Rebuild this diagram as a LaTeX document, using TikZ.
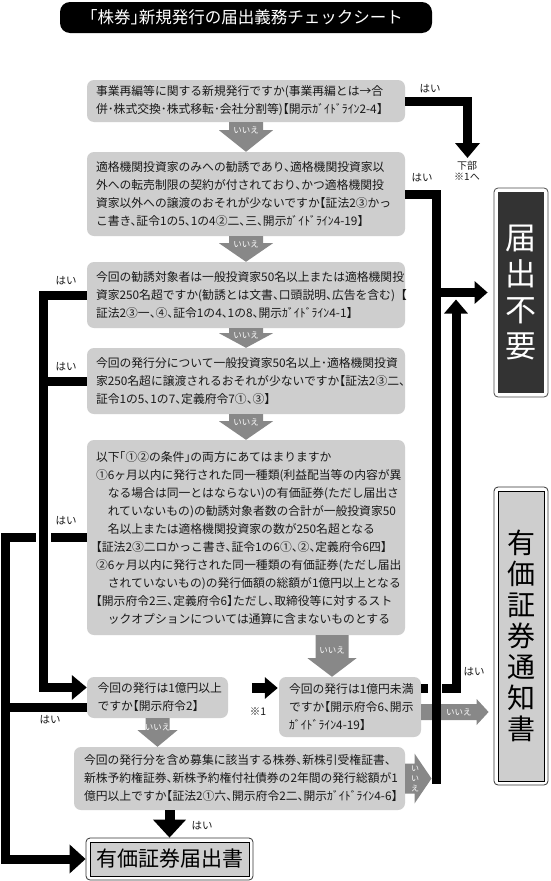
\documentclass[tikz,border=0pt]{standalone}
\usepackage{fontspec}
\setmainfont{Noto Sans CJK JP}[RawFeature=+halt]
\usetikzlibrary{arrows.meta,calc}
\definecolor{boxgray}{RGB}{206,206,206}
\definecolor{nogray}{RGB}{136,136,136}
\definecolor{darkfill}{RGB}{51,51,51}
\definecolor{txt}{RGB}{25,25,25}
% vertical grey "no" arrow: #1 top, #2 tip, #3 stem half width, #4 head half width, #5 stem length, #6 label name, #7 label offset
\newcommand\grayDown[7]{%
  \fill[nogray] let \p1=(#1), \p2=(#2) in
    (\x1-#3pt,\y1) -- (\x1+#3pt,\y1) -- (\x1+#3pt,\y1-#5pt) -- (\x1+#4pt,\y1-#5pt)
    -- (\x1,\y2) -- (\x1-#4pt,\y1-#5pt) -- (\x1-#3pt,\y1-#5pt) -- cycle;
  \node[notext] (#6) at ($(#1)+(0,#7)$) {いいえ};
}
% horizontal grey arrow: #1 start, #2 tip, #3 stem hw, #4 head hw, #5 head length
\newcommand\grayRight[5]{%
  \fill[nogray] let \p1=(#1), \p2=(#2) in
    (\x1,\y1+#3pt) -- (\x2-#5pt,\y1+#3pt) -- (\x2-#5pt,\y1+#4pt) -- (\x2,\y1)
    -- (\x2-#5pt,\y1-#4pt) -- (\x2-#5pt,\y1-#3pt) -- (\x1,\y1-#3pt) -- cycle;
}
\tikzset{
  qbox/.style={fill=boxgray, rounded corners=7pt, text=txt, align=left, inner sep=0pt,
    font=\fontsize{11.8}{18}\selectfont,
    execute at begin node={\hyphenpenalty=10000\exhyphenpenalty=10000}},
  titlebox/.style={fill=black, rounded corners=10pt, minimum width=372pt, minimum height=31pt,
    text=white, inner sep=0pt, font=\fontsize{16.5}{18}\selectfont},
  resultdark/.style={draw=black!70, line width=0.8pt, fill=white, rounded corners=4pt,
    inner sep=0pt, text=white, align=center,
    path picture={\fill[darkfill, sharp corners] ([shift={(4pt,4pt)}]path picture bounding box.south west)
      rectangle ([shift={(-4pt,-4pt)}]path picture bounding box.north east);}},
  resultlight/.style={draw=black!80, line width=0.8pt, fill=white, rounded corners=4pt,
    inner sep=0pt, text=black, align=center,
    path picture={\filldraw[fill=boxgray, draw=black, line width=0.8pt, sharp corners]
      ([shift={(4pt,4pt)}]path picture bounding box.south west)
      rectangle ([shift={(-4pt,-4pt)}]path picture bounding box.north east);}},
  blk/.style={line width=9pt, draw=black},
  blkarrow/.style={blk, -{Triangle[width=24pt,length=15pt]}},
  hai/.style={font=\fontsize{10.5}{12}\selectfont, text=txt, inner sep=0pt},
  notext/.style={font=\fontsize{8.5}{9}\selectfont, text=white, inner sep=0pt},
}
\begin{document}
\begin{tikzpicture}[x=1pt,y=-1pt,line join=miter]
\path[use as bounding box, fill=white] (0,0) rectangle (550,881);

% ---------- title ----------
\node[titlebox] (title) at (246,17.5) {「株券」新規発行の届出義務チェックシート};

% ---------- question boxes ----------
\node[qbox, minimum width=318pt, minimum height=42pt, text width=300pt] (b1) at (246,101)
 {事業再編等に関する新規発行ですか(事業再編とは→合\\
  併･株式交換･株式移転･会社分割等)【開示ｶﾞｲﾄﾞﾗｲﾝ2-4】};
\node[qbox, minimum width=318pt, minimum height=84pt, text width=300pt] (b2) at (246,194)
 {適格機関投資家のみへの勧誘であり、適格機関投資家以\\
  外への転売制限の契約が付されており、かつ適格機関投\\
  資家以外への譲渡のおそれが少ないですか【証法2③かっ\\
  こ書き、証令1の5、1の4②二、三、開示ｶﾞｲﾄﾞﾗｲﾝ4-19】};
\node[qbox, minimum width=318pt, minimum height=66pt, text width=300pt] (b3) at (246,295)
 {今回の勧誘対象者は一般投資家50名以上または適格機関投\\
  資家250名超ですか(勧誘とは文書、口頭説明、広告を含む){\addfontfeature{RawFeature=-halt}【}\\
  証法2③一、④、証令1の4、1の8、開示ｶﾞｲﾄﾞﾗｲﾝ4-1】};
\node[qbox, minimum width=318pt, minimum height=66pt, text width=300pt] (b4) at (246,381)
 {今回の発行分について一般投資家50名以上･適格機関投資\\
  家250名超に譲渡されるおそれが少ないですか【証法2③二、\\
  証令1の5、1の7、定義府令7①、③】};
\node[qbox, minimum width=318pt, minimum height=195pt, text width=300pt] (b5) at (246,537.5)
 {以下「①②の条件」の両方にあてはまりますか\\
  ①6ヶ月以内に発行された同一種類(利益配当等の内容が異\\
  　なる場合は同一とはならない)の有価証券(ただし届出さ\\
  　れていないもの)の勧誘対象者数の合計が一般投資家50\\
  　名以上または適格機関投資家の数が250名超となる\\
  【証法2③二ロかっこ書き、証令1の6①、②、定義府令6四】\\
  ②6ヶ月以内に発行された同一種類の有価証券(ただし届出\\
  　されていないもの)の発行価額の総額が1億円以上となる\\
  【開示府令2三、定義府令6】ただし、取締役等に対するスト\\
  　ックオプションについては通算に含まないものとする};
\node[qbox, minimum width=141pt, minimum height=41pt, text width=120pt] (b6a) at (157.5,697.5)
 {今回の発行は1億円以上\\
  ですか【開示府令2】};
\node[qbox, minimum width=142pt, minimum height=60pt, text width=122pt] (b6b) at (350,707)
 {今回の発行は1億円未満\\
  ですか【開示府令6、開示\\
  ｶﾞｲﾄﾞﾗｲﾝ4-19】};
\node[qbox, minimum width=331pt, minimum height=63pt, text width=311pt] (b7) at (239.5,778.5)
 {今回の発行分を含め募集に該当する株券、新株引受権証書、\\
  新株予約権証券、新株予約権付社債券の2年間の発行総額が1\\
  億円以上ですか【証法2①六、開示府令2二、開示ｶﾞｲﾄﾞﾗｲﾝ4-6】};

% ---------- results ----------
\node[resultlight, minimum width=167pt, minimum height=42pt, font=\fontsize{21}{24}\selectfont]
  (fin) at (169.5,859) {有価証券届出書};
\node[resultdark, minimum width=54pt, minimum height=209pt, font=\fontsize{31}{36}\selectfont]
  (tf) at (521,292.5) {届\\出\\不\\要};
\node[resultlight, minimum width=54pt, minimum height=298pt, font=\fontsize{28}{31}\selectfont]
  (tc) at (521,636) {有\\価\\証\\券\\通\\知\\書};

% ---------- reference coordinates ----------
\coordinate (xL1) at (43,0);
\coordinate (xL2) at (5,0);
\coordinate (xA) at (436,0);
\coordinate (xB) at (456,0);
\coordinate (xR) at (467.5,0);

% ---------- grey "no" arrows ----------
\grayDown{b1.south}{b2.north}{17}{27}{8}{n1}{8}
\grayDown{b2.south}{b3.north}{17}{27}{7}{n2}{8}
\grayDown{b3.south}{b4.north}{17}{27}{5}{n3}{7}
\grayDown{b4.south}{b5.north}{17}{27}{7}{n4}{8}
\coordinate (t5) at ($(b5.south)+(86,0)$);
\grayDown{t5}{t5 |- b6b.north}{16.5}{24.5}{23}{n5}{15}
\grayDown{b6a.south}{b6a.south |- b7.north}{12}{20}{12}{n6}{9}

\coordinate (s6b) at ($(b6b.east)+(0,5)$);
\coordinate (e6b) at ($(s6b -| tc.west)+(-5,0)$);
\grayRight{s6b}{e6b}{8}{13}{12}
\node[notext] (n6b) at ($(s6b)!0.56!(e6b)$) {いいえ};

\coordinate (e7) at ($(xA |- b7.east)+(-4.5,0)$);
\grayRight{b7.east}{e7}{15}{25}{17}
\node[notext, align=center, font=\fontsize{8}{10}\selectfont] (n7) at ($(b7.east)+(10,0)$) {い\\い\\え};

% ---------- black "yes" connectors ----------
% box 1 -> down to *1
\coordinate (d1) at (467.5,158);
\draw[blkarrow] (b1.east) -- (xR |- b1.east) -- (d1);
% box 2 -> line A -> not required
\coordinate (aEnd) at ($(xA |- b7.east)+(0,5)$);
\draw[blk] (b2.east) -- (xA |- b2.east) -- (aEnd);
\coordinate (jA) at (xA |- tf.west);
\draw[blk, -{Triangle[width=22pt,length=13pt]}] (jA) -- ($(tf.west)+(-6,0)$);
% box 6b yes -> line B -> up
\coordinate (h6b) at ($(b6b.east)+(0,-19)$);
\coordinate (bTip) at ($(xB |- tf.west)+(0,7)$);
\draw[blk] (h6b) -- ++(7,0);
\draw[blk, -{Triangle[width=23pt,length=14pt]}] ($(h6b -| xA)+(6,0)$) -- (h6b -| xB) -- (bTip);
% boxes 3,4 -> line L1 -> box 6a
\coordinate (in6a) at ($(b6a.west)+(0,-10)$);
\draw[blkarrow] (b3.west) -- (xL1 |- b3.west) -- (xL1 |- in6a) -- (in6a);
\draw[blk] (b4.west) -- (xL1 |- b4.west);
% box 5 -> line L2 -> final
\draw[blk] (b5.west) -- ($(xL1 |- b5.west)+(7.5,0)$);
\draw[blk, -{Triangle[width=28pt,length=16pt]}] ($(xL1 |- b5.west)+(-7.5,0)$) -- (xL2 |- b5.west) -- (xL2 |- fin.west) -- (fin.west);
% box 6a yes -> L2
\coordinate (out6a) at ($(b6a.west)+(0,10)$);
\draw[blk] (out6a) -- (xL2 |- out6a);
% *1 arrow
\coordinate (k1) at ($(b6b.west)+(-27,-19)$);
\draw[blk, line width=10pt, -{Triangle[width=21pt,length=13pt]}] (k1) -- ($(b6b.west)+(-1,-19)$);
% box 7 yes -> final
\draw[blk, line width=10pt, -{Triangle[width=32pt,length=18pt]}] (fin.north |- b7.south) -- (fin.north);

% ---------- labels ----------
\node[hai] (y1) at (430,89) {はい};
\node[hai, align=center, font=\fontsize{10}{11}\selectfont] (y1b) at (467,171) {下部\\※1へ};
\node[hai] (y2) at (422,178) {はい};
\node[hai] (y3) at (66,281) {はい};
\node[hai] (y4) at (66,367) {はい};
\node[hai] (y5) at (66,521) {はい};
\node[hai] (y6a) at (50,720) {はい};
\node[hai] (y6b) at (474,672) {はい};
\node[hai] (y7) at (202,826) {はい};
\node[hai] (k1l) at (258,712) {※1};
\end{tikzpicture}
\end{document}
